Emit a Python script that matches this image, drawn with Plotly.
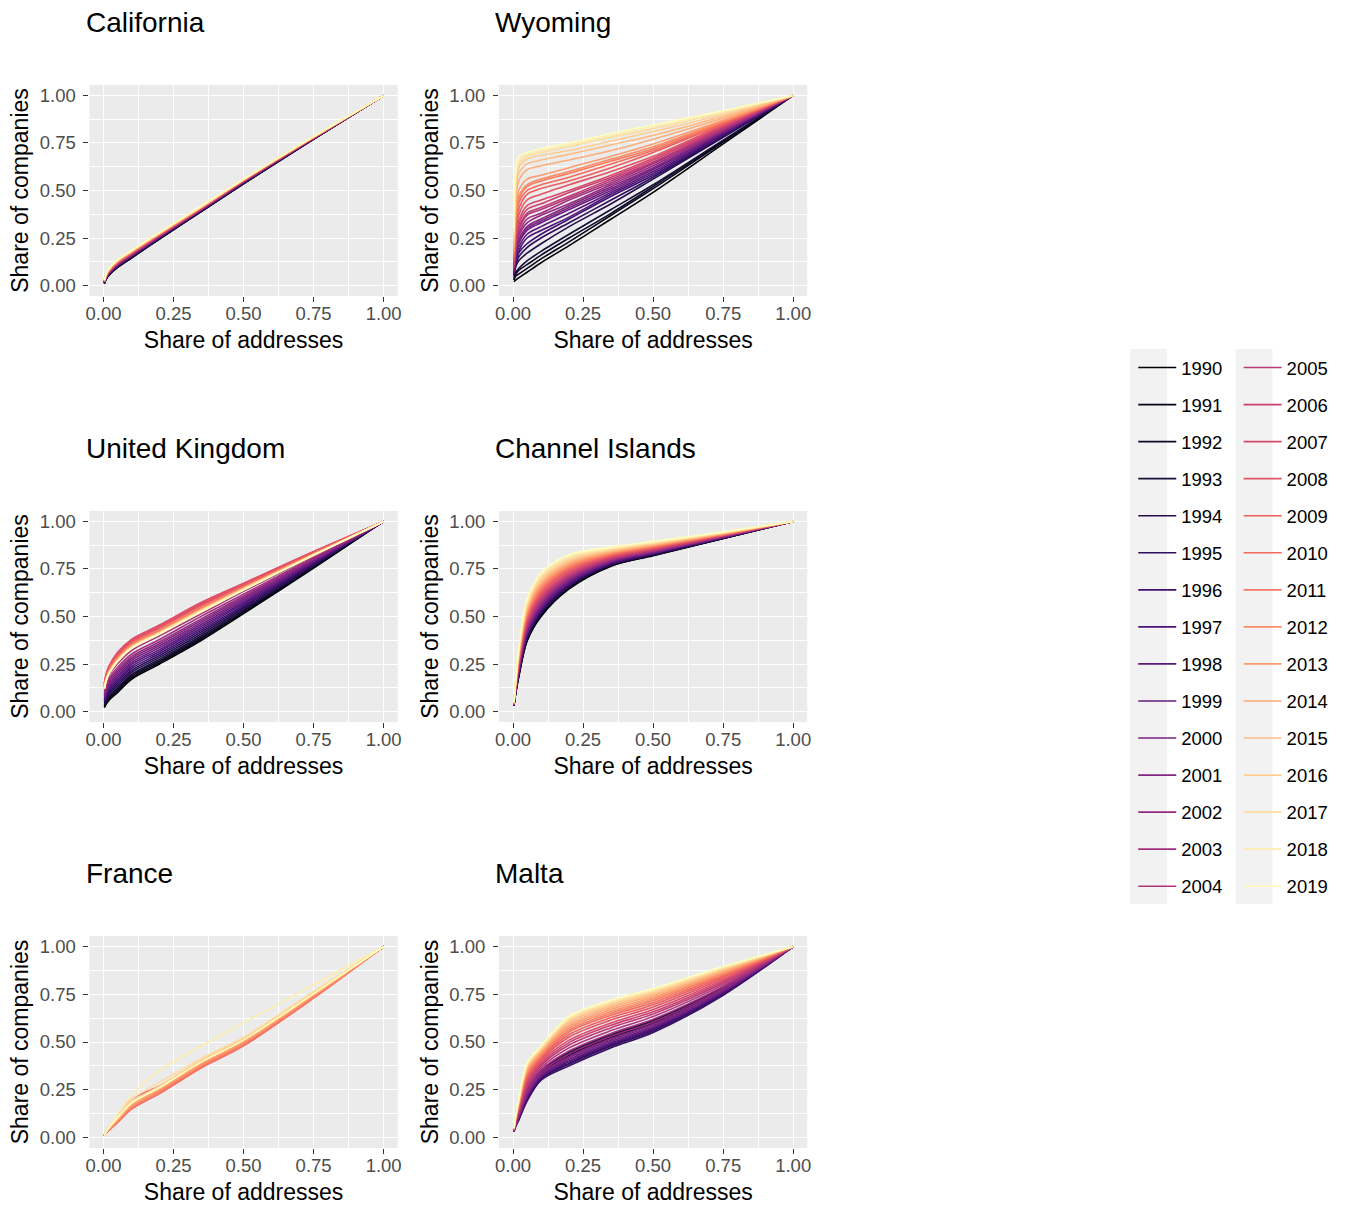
import plotly.graph_objects as go
import plotly.express as px
from plotly.colors import sample_colorscale

W, H = 1347, 1205

YEARS = list(range(1990, 2020))
X_GRID = [0.003, 0.01, 0.02, 0.05, 0.1, 0.2, 0.35, 0.5, 0.75, 1.0]
TICK_VALS = [0, 0.25, 0.5, 0.75, 1.0]
TICK_TEXT = ["0.00", "0.25", "0.50", "0.75", "1.00"]
PANEL_TITLES = ["California", "Wyoming", "United Kingdom", "Channel Islands", "France", "Malta"]
X_TITLE = "Share of addresses"
Y_TITLE = "Share of companies"

CALIFORNIA = [
    [0.010, 0.035, 0.055, 0.095, 0.145, 0.245, 0.390, 0.535, 0.770, 1.0],
    [0.011, 0.036, 0.056, 0.096, 0.146, 0.246, 0.391, 0.536, 0.770, 1.0],
    [0.011, 0.037, 0.057, 0.097, 0.147, 0.247, 0.392, 0.537, 0.771, 1.0],
    [0.012, 0.038, 0.058, 0.099, 0.149, 0.248, 0.393, 0.538, 0.771, 1.0],
    [0.013, 0.039, 0.060, 0.100, 0.150, 0.250, 0.394, 0.539, 0.772, 1.0],
    [0.014, 0.040, 0.061, 0.102, 0.152, 0.251, 0.395, 0.540, 0.772, 1.0],
    [0.014, 0.041, 0.062, 0.103, 0.153, 0.252, 0.396, 0.541, 0.773, 1.0],
    [0.015, 0.042, 0.063, 0.104, 0.154, 0.253, 0.397, 0.542, 0.773, 1.0],
    [0.016, 0.043, 0.065, 0.106, 0.156, 0.255, 0.398, 0.543, 0.774, 1.0],
    [0.016, 0.044, 0.066, 0.107, 0.157, 0.256, 0.399, 0.544, 0.774, 1.0],
    [0.017, 0.045, 0.067, 0.109, 0.159, 0.257, 0.400, 0.545, 0.775, 1.0],
    [0.018, 0.046, 0.069, 0.110, 0.160, 0.258, 0.401, 0.546, 0.775, 1.0],
    [0.019, 0.047, 0.070, 0.112, 0.162, 0.260, 0.402, 0.547, 0.776, 1.0],
    [0.019, 0.048, 0.071, 0.113, 0.163, 0.261, 0.403, 0.548, 0.776, 1.0],
    [0.020, 0.049, 0.072, 0.115, 0.165, 0.262, 0.404, 0.549, 0.777, 1.0],
    [0.021, 0.050, 0.074, 0.116, 0.166, 0.264, 0.405, 0.550, 0.777, 1.0],
    [0.021, 0.051, 0.075, 0.118, 0.168, 0.265, 0.406, 0.550, 0.778, 1.0],
    [0.022, 0.052, 0.076, 0.119, 0.169, 0.266, 0.407, 0.551, 0.778, 1.0],
    [0.023, 0.053, 0.078, 0.121, 0.171, 0.268, 0.408, 0.552, 0.779, 1.0],
    [0.024, 0.054, 0.079, 0.122, 0.172, 0.269, 0.409, 0.553, 0.779, 1.0],
    [0.024, 0.055, 0.080, 0.124, 0.174, 0.270, 0.410, 0.554, 0.780, 1.0],
    [0.025, 0.056, 0.081, 0.125, 0.175, 0.271, 0.411, 0.555, 0.781, 1.0],
    [0.026, 0.058, 0.083, 0.127, 0.177, 0.273, 0.412, 0.556, 0.781, 1.0],
    [0.026, 0.059, 0.084, 0.128, 0.178, 0.274, 0.413, 0.557, 0.782, 1.0],
    [0.027, 0.060, 0.085, 0.130, 0.180, 0.275, 0.414, 0.557, 0.782, 1.0],
    [0.028, 0.061, 0.086, 0.131, 0.181, 0.276, 0.415, 0.558, 0.783, 1.0],
    [0.028, 0.062, 0.087, 0.132, 0.182, 0.277, 0.416, 0.558, 0.783, 1.0],
    [0.029, 0.063, 0.088, 0.133, 0.183, 0.278, 0.417, 0.559, 0.784, 1.0],
    [0.029, 0.064, 0.089, 0.134, 0.184, 0.279, 0.419, 0.559, 0.784, 1.0],
    [0.030, 0.065, 0.090, 0.135, 0.185, 0.280, 0.420, 0.560, 0.785, 1.0],
]

WYOMING = [
    [0.02, 0.03, 0.04, 0.07, 0.12, 0.21, 0.35, 0.49, 0.745, 1.0],
    [0.03, 0.05, 0.06, 0.09, 0.14, 0.23, 0.37, 0.51, 0.755, 1.0],
    [0.03, 0.06, 0.08, 0.11, 0.16, 0.25, 0.38, 0.52, 0.76, 1.0],
    [0.04, 0.07, 0.09, 0.13, 0.18, 0.27, 0.40, 0.53, 0.765, 1.0],
    [0.05, 0.10, 0.13, 0.17, 0.22, 0.31, 0.43, 0.56, 0.78, 1.0],
    [0.05, 0.11, 0.15, 0.20, 0.25, 0.33, 0.45, 0.57, 0.785, 1.0],
    [0.06, 0.12, 0.17, 0.22, 0.27, 0.35, 0.47, 0.58, 0.79, 1.0],
    [0.06, 0.13, 0.18, 0.25, 0.29, 0.36, 0.48, 0.59, 0.795, 1.0],
    [0.07, 0.15, 0.20, 0.27, 0.31, 0.38, 0.49, 0.60, 0.80, 1.0],
    [0.07, 0.16, 0.22, 0.29, 0.33, 0.40, 0.50, 0.61, 0.805, 1.0],
    [0.08, 0.17, 0.23, 0.30, 0.34, 0.41, 0.51, 0.615, 0.81, 1.0],
    [0.08, 0.18, 0.24, 0.31, 0.35, 0.42, 0.52, 0.62, 0.81, 1.0],
    [0.09, 0.19, 0.26, 0.33, 0.37, 0.43, 0.53, 0.63, 0.815, 1.0],
    [0.09, 0.20, 0.27, 0.35, 0.38, 0.45, 0.54, 0.64, 0.82, 1.0],
    [0.10, 0.21, 0.29, 0.37, 0.40, 0.46, 0.55, 0.645, 0.825, 1.0],
    [0.10, 0.22, 0.30, 0.38, 0.41, 0.47, 0.56, 0.65, 0.83, 1.0],
    [0.11, 0.24, 0.32, 0.40, 0.43, 0.49, 0.57, 0.66, 0.835, 1.0],
    [0.12, 0.26, 0.34, 0.42, 0.45, 0.50, 0.58, 0.67, 0.84, 1.0],
    [0.13, 0.28, 0.37, 0.45, 0.48, 0.53, 0.60, 0.68, 0.845, 1.0],
    [0.14, 0.30, 0.40, 0.48, 0.51, 0.55, 0.62, 0.70, 0.85, 1.0],
    [0.15, 0.33, 0.43, 0.50, 0.53, 0.57, 0.64, 0.71, 0.855, 1.0],
    [0.16, 0.35, 0.45, 0.52, 0.55, 0.59, 0.655, 0.72, 0.86, 1.0],
    [0.17, 0.37, 0.47, 0.53, 0.56, 0.60, 0.665, 0.73, 0.865, 1.0],
    [0.18, 0.40, 0.50, 0.56, 0.58, 0.62, 0.68, 0.745, 0.87, 1.0],
    [0.20, 0.45, 0.55, 0.61, 0.63, 0.66, 0.71, 0.77, 0.88, 1.0],
    [0.22, 0.50, 0.59, 0.64, 0.66, 0.69, 0.74, 0.79, 0.89, 1.0],
    [0.24, 0.53, 0.62, 0.665, 0.685, 0.71, 0.76, 0.81, 0.90, 1.0],
    [0.26, 0.56, 0.64, 0.68, 0.70, 0.73, 0.78, 0.825, 0.91, 1.0],
    [0.28, 0.59, 0.66, 0.69, 0.71, 0.74, 0.79, 0.835, 0.915, 1.0],
    [0.30, 0.62, 0.68, 0.70, 0.72, 0.75, 0.80, 0.845, 0.92, 1.0],
]

UNITED_KINGDOM = [
    [0.020, 0.040, 0.060, 0.100, 0.170, 0.250, 0.375, 0.515, 0.755, 1.0],
    [0.025, 0.046, 0.067, 0.108, 0.178, 0.258, 0.383, 0.521, 0.758, 1.0],
    [0.030, 0.053, 0.074, 0.117, 0.187, 0.266, 0.391, 0.527, 0.762, 1.0],
    [0.036, 0.059, 0.082, 0.125, 0.195, 0.275, 0.399, 0.534, 0.765, 1.0],
    [0.042, 0.067, 0.091, 0.136, 0.206, 0.285, 0.409, 0.542, 0.770, 1.0],
    [0.049, 0.075, 0.100, 0.146, 0.216, 0.295, 0.419, 0.550, 0.774, 1.0],
    [0.055, 0.083, 0.109, 0.157, 0.227, 0.305, 0.429, 0.558, 0.779, 1.0],
    [0.062, 0.091, 0.118, 0.167, 0.237, 0.316, 0.439, 0.567, 0.783, 1.0],
    [0.068, 0.099, 0.127, 0.178, 0.248, 0.326, 0.449, 0.574, 0.787, 1.0],
    [0.075, 0.107, 0.136, 0.188, 0.258, 0.336, 0.459, 0.582, 0.792, 1.0],
    [0.081, 0.115, 0.145, 0.199, 0.269, 0.346, 0.469, 0.591, 0.796, 1.0],
    [0.088, 0.123, 0.154, 0.209, 0.279, 0.357, 0.479, 0.599, 0.800, 1.0],
    [0.094, 0.131, 0.163, 0.220, 0.290, 0.367, 0.489, 0.607, 0.805, 1.0],
    [0.102, 0.141, 0.173, 0.232, 0.302, 0.379, 0.502, 0.617, 0.810, 1.0],
    [0.114, 0.155, 0.190, 0.251, 0.321, 0.398, 0.515, 0.632, 0.818, 1.0],
    [0.131, 0.176, 0.213, 0.279, 0.349, 0.424, 0.543, 0.652, 0.829, 1.0],
    [0.144, 0.192, 0.231, 0.300, 0.370, 0.445, 0.564, 0.667, 0.838, 1.0],
    [0.150, 0.200, 0.240, 0.310, 0.380, 0.455, 0.575, 0.675, 0.842, 1.0],
    [0.147, 0.197, 0.236, 0.306, 0.376, 0.451, 0.571, 0.672, 0.840, 1.0],
    [0.140, 0.187, 0.226, 0.293, 0.363, 0.439, 0.558, 0.663, 0.835, 1.0],
    [0.134, 0.181, 0.218, 0.285, 0.355, 0.430, 0.549, 0.656, 0.832, 1.0],
    [0.132, 0.178, 0.215, 0.281, 0.351, 0.426, 0.545, 0.653, 0.830, 1.0],
    [0.129, 0.174, 0.211, 0.276, 0.346, 0.422, 0.541, 0.650, 0.828, 1.0],
    [0.128, 0.173, 0.209, 0.274, 0.344, 0.420, 0.538, 0.649, 0.827, 1.0],
    [0.127, 0.171, 0.208, 0.272, 0.342, 0.418, 0.536, 0.647, 0.826, 1.0],
    [0.125, 0.170, 0.206, 0.270, 0.340, 0.416, 0.534, 0.646, 0.825, 1.0],
    [0.124, 0.168, 0.204, 0.268, 0.338, 0.414, 0.532, 0.644, 0.825, 1.0],
    [0.123, 0.166, 0.202, 0.266, 0.336, 0.412, 0.530, 0.642, 0.824, 1.0],
    [0.121, 0.165, 0.200, 0.264, 0.334, 0.410, 0.528, 0.641, 0.823, 1.0],
    [0.120, 0.163, 0.199, 0.262, 0.332, 0.408, 0.526, 0.639, 0.822, 1.0],
]

CHANNEL_ISLANDS = [
    [0.030, 0.100, 0.180, 0.370, 0.500, 0.645, 0.765, 0.820, 0.910, 1.0],
    [0.030, 0.102, 0.183, 0.374, 0.505, 0.649, 0.767, 0.822, 0.911, 1.0],
    [0.031, 0.103, 0.186, 0.379, 0.509, 0.652, 0.769, 0.823, 0.911, 1.0],
    [0.031, 0.105, 0.189, 0.383, 0.514, 0.656, 0.771, 0.825, 0.912, 1.0],
    [0.032, 0.106, 0.192, 0.388, 0.518, 0.659, 0.773, 0.826, 0.913, 1.0],
    [0.032, 0.108, 0.195, 0.392, 0.523, 0.663, 0.775, 0.828, 0.914, 1.0],
    [0.032, 0.110, 0.198, 0.396, 0.528, 0.667, 0.777, 0.829, 0.914, 1.0],
    [0.033, 0.112, 0.203, 0.403, 0.535, 0.672, 0.780, 0.831, 0.915, 1.0],
    [0.034, 0.114, 0.207, 0.410, 0.541, 0.677, 0.783, 0.834, 0.916, 1.0],
    [0.034, 0.117, 0.212, 0.416, 0.548, 0.683, 0.786, 0.836, 0.917, 1.0],
    [0.035, 0.119, 0.216, 0.423, 0.555, 0.688, 0.789, 0.838, 0.918, 1.0],
    [0.035, 0.122, 0.221, 0.429, 0.562, 0.694, 0.792, 0.840, 0.919, 1.0],
    [0.036, 0.124, 0.225, 0.436, 0.569, 0.699, 0.795, 0.843, 0.921, 1.0],
    [0.037, 0.126, 0.230, 0.443, 0.576, 0.704, 0.798, 0.845, 0.922, 1.0],
    [0.037, 0.129, 0.234, 0.449, 0.583, 0.710, 0.801, 0.847, 0.923, 1.0],
    [0.038, 0.132, 0.240, 0.458, 0.592, 0.717, 0.805, 0.850, 0.924, 1.0],
    [0.039, 0.135, 0.246, 0.467, 0.601, 0.724, 0.809, 0.853, 0.925, 1.0],
    [0.040, 0.138, 0.252, 0.476, 0.610, 0.731, 0.813, 0.856, 0.927, 1.0],
    [0.040, 0.142, 0.258, 0.484, 0.620, 0.739, 0.817, 0.859, 0.928, 1.0],
    [0.041, 0.145, 0.264, 0.493, 0.629, 0.746, 0.821, 0.862, 0.930, 1.0],
    [0.042, 0.148, 0.270, 0.502, 0.638, 0.753, 0.825, 0.865, 0.931, 1.0],
    [0.043, 0.151, 0.276, 0.511, 0.647, 0.760, 0.829, 0.868, 0.932, 1.0],
    [0.044, 0.154, 0.282, 0.520, 0.656, 0.767, 0.833, 0.871, 0.934, 1.0],
    [0.044, 0.158, 0.288, 0.528, 0.666, 0.775, 0.837, 0.874, 0.935, 1.0],
    [0.045, 0.161, 0.294, 0.537, 0.675, 0.782, 0.841, 0.877, 0.937, 1.0],
    [0.046, 0.164, 0.300, 0.546, 0.684, 0.789, 0.845, 0.880, 0.938, 1.0],
    [0.047, 0.168, 0.308, 0.557, 0.696, 0.798, 0.850, 0.884, 0.940, 1.0],
    [0.048, 0.172, 0.315, 0.568, 0.707, 0.807, 0.855, 0.888, 0.942, 1.0],
    [0.049, 0.176, 0.323, 0.579, 0.719, 0.816, 0.860, 0.891, 0.943, 1.0],
    [0.050, 0.180, 0.330, 0.590, 0.730, 0.825, 0.865, 0.895, 0.945, 1.0],
]

FRANCE = [
    [0.010, 0.030, 0.045, 0.090, 0.165, 0.250, 0.385, 0.500, 0.745, 1.0],
    [0.011, 0.031, 0.047, 0.093, 0.168, 0.253, 0.388, 0.502, 0.746, 1.0],
    [0.009, 0.029, 0.044, 0.088, 0.162, 0.247, 0.382, 0.497, 0.743, 1.0],
    [0.010, 0.030, 0.045, 0.090, 0.165, 0.250, 0.385, 0.500, 0.745, 1.0],
    [0.011, 0.031, 0.047, 0.093, 0.168, 0.253, 0.388, 0.502, 0.746, 1.0],
    [0.009, 0.029, 0.044, 0.088, 0.162, 0.247, 0.382, 0.497, 0.743, 1.0],
    [0.010, 0.030, 0.045, 0.090, 0.165, 0.250, 0.385, 0.500, 0.745, 1.0],
    [0.011, 0.031, 0.047, 0.093, 0.168, 0.253, 0.388, 0.502, 0.746, 1.0],
    [0.009, 0.029, 0.044, 0.088, 0.162, 0.247, 0.382, 0.497, 0.743, 1.0],
    [0.010, 0.030, 0.045, 0.090, 0.165, 0.250, 0.385, 0.500, 0.745, 1.0],
    [0.011, 0.031, 0.047, 0.093, 0.168, 0.253, 0.388, 0.502, 0.746, 1.0],
    [0.009, 0.029, 0.044, 0.088, 0.162, 0.247, 0.382, 0.497, 0.743, 1.0],
    [0.010, 0.030, 0.045, 0.090, 0.165, 0.250, 0.385, 0.500, 0.745, 1.0],
    [0.011, 0.031, 0.047, 0.093, 0.168, 0.253, 0.388, 0.502, 0.746, 1.0],
    [0.009, 0.029, 0.044, 0.088, 0.162, 0.247, 0.382, 0.497, 0.743, 1.0],
    [0.010, 0.030, 0.045, 0.090, 0.165, 0.250, 0.385, 0.500, 0.745, 1.0],
    [0.011, 0.031, 0.047, 0.093, 0.168, 0.253, 0.388, 0.502, 0.746, 1.0],
    [0.009, 0.029, 0.044, 0.088, 0.162, 0.247, 0.382, 0.497, 0.743, 1.0],
    [0.010, 0.030, 0.045, 0.090, 0.165, 0.250, 0.385, 0.500, 0.745, 1.0],
    [0.010, 0.030, 0.050, 0.110, 0.200, 0.270, 0.395, 0.510, 0.750, 1.0],
    [0.008, 0.025, 0.038, 0.078, 0.148, 0.230, 0.365, 0.480, 0.730, 1.0],
    [0.009, 0.027, 0.041, 0.083, 0.155, 0.238, 0.372, 0.487, 0.735, 1.0],
    [0.009, 0.028, 0.043, 0.087, 0.161, 0.245, 0.379, 0.494, 0.740, 1.0],
    [0.010, 0.030, 0.046, 0.091, 0.167, 0.251, 0.386, 0.500, 0.745, 1.0],
    [0.011, 0.032, 0.049, 0.096, 0.173, 0.257, 0.392, 0.507, 0.750, 1.0],
    [0.011, 0.033, 0.052, 0.100, 0.179, 0.263, 0.398, 0.513, 0.755, 1.0],
    [0.012, 0.035, 0.055, 0.105, 0.185, 0.270, 0.405, 0.520, 0.760, 1.0],
    [0.010, 0.032, 0.052, 0.110, 0.200, 0.290, 0.415, 0.525, 0.765, 1.0],
    [0.010, 0.030, 0.050, 0.120, 0.220, 0.350, 0.480, 0.600, 0.800, 1.0],
    [0.011, 0.033, 0.053, 0.102, 0.180, 0.262, 0.396, 0.510, 0.752, 1.0],
]

MALTA = [
    [0.034, 0.073, 0.114, 0.234, 0.340, 0.432, 0.525, 0.601, 0.778, 1.0],
    [0.035, 0.075, 0.118, 0.240, 0.345, 0.440, 0.533, 0.608, 0.783, 1.0],
    [0.034, 0.072, 0.112, 0.230, 0.336, 0.427, 0.520, 0.596, 0.775, 1.0],
    [0.036, 0.077, 0.121, 0.246, 0.350, 0.448, 0.540, 0.614, 0.787, 1.0],
    [0.031, 0.063, 0.096, 0.200, 0.309, 0.388, 0.483, 0.562, 0.753, 1.0],
    [0.030, 0.060, 0.090, 0.190, 0.300, 0.375, 0.470, 0.550, 0.745, 1.0],
    [0.031, 0.062, 0.093, 0.196, 0.305, 0.383, 0.478, 0.557, 0.750, 1.0],
    [0.032, 0.065, 0.099, 0.206, 0.314, 0.396, 0.490, 0.568, 0.757, 1.0],
    [0.032, 0.066, 0.101, 0.210, 0.318, 0.401, 0.495, 0.573, 0.760, 1.0],
    [0.033, 0.068, 0.104, 0.216, 0.323, 0.409, 0.503, 0.580, 0.765, 1.0],
    [0.033, 0.070, 0.108, 0.222, 0.329, 0.417, 0.510, 0.587, 0.769, 1.0],
    [0.034, 0.071, 0.111, 0.228, 0.334, 0.424, 0.518, 0.594, 0.774, 1.0],
    [0.035, 0.074, 0.116, 0.238, 0.343, 0.437, 0.530, 0.605, 0.781, 1.0],
    [0.036, 0.078, 0.123, 0.250, 0.354, 0.453, 0.545, 0.619, 0.790, 1.0],
    [0.037, 0.082, 0.130, 0.262, 0.365, 0.469, 0.560, 0.633, 0.799, 1.0],
    [0.038, 0.085, 0.136, 0.274, 0.376, 0.484, 0.575, 0.647, 0.808, 1.0],
    [0.039, 0.088, 0.142, 0.284, 0.385, 0.497, 0.588, 0.658, 0.816, 1.0],
    [0.040, 0.091, 0.147, 0.294, 0.394, 0.510, 0.600, 0.670, 0.823, 1.0],
    [0.042, 0.095, 0.154, 0.306, 0.404, 0.526, 0.615, 0.683, 0.832, 1.0],
    [0.043, 0.098, 0.159, 0.316, 0.413, 0.539, 0.628, 0.695, 0.840, 1.0],
    [0.044, 0.101, 0.165, 0.326, 0.422, 0.552, 0.640, 0.706, 0.847, 1.0],
    [0.044, 0.103, 0.169, 0.334, 0.430, 0.562, 0.650, 0.716, 0.853, 1.0],
    [0.045, 0.106, 0.174, 0.342, 0.437, 0.573, 0.660, 0.725, 0.859, 1.0],
    [0.046, 0.108, 0.178, 0.350, 0.444, 0.583, 0.670, 0.734, 0.865, 1.0],
    [0.047, 0.110, 0.182, 0.358, 0.451, 0.593, 0.680, 0.743, 0.871, 1.0],
    [0.048, 0.113, 0.187, 0.366, 0.458, 0.604, 0.690, 0.752, 0.877, 1.0],
    [0.048, 0.115, 0.190, 0.372, 0.464, 0.612, 0.698, 0.759, 0.882, 1.0],
    [0.049, 0.116, 0.193, 0.378, 0.469, 0.619, 0.705, 0.766, 0.886, 1.0],
    [0.049, 0.118, 0.197, 0.384, 0.475, 0.627, 0.713, 0.773, 0.891, 1.0],
    [0.050, 0.120, 0.200, 0.390, 0.480, 0.635, 0.720, 0.780, 0.895, 1.0],
]

PANEL_DATA = [CALIFORNIA, WYOMING, UNITED_KINGDOM, CHANNEL_ISLANDS, FRANCE, MALTA]

# ---- styling / layout ----
FONT = "Liberation Sans, Arial, sans-serif"
COLORS = sample_colorscale(px.colors.sequential.Magma, [i / 29 for i in range(30)])
COL_PX = [(86, 396), (498, 808)]
ROW_PX = [(85, 296), (511, 722), (936, 1148)]


def px_x(v):
    return v / W


def px_y(v):
    return 1 - v / H


fig = go.Figure()

for p, (title, data) in enumerate(zip(PANEL_TITLES, PANEL_DATA)):
    r, c = divmod(p, 2)
    ax = "" if p == 0 else str(p + 1)
    for i, (year, ys) in enumerate(zip(YEARS, data)):
        fig.add_trace(go.Scatter(
            x=X_GRID, y=ys, mode="lines",
            line=dict(color=COLORS[i], width=1.6, shape="spline", smoothing=0.9),
            name=str(year), legendgroup=str(year),
            legend="legend" if year < 2005 else "legend2",
            showlegend=(p == 0),
            xaxis="x" + ax, yaxis="y" + ax,
        ))

    x0, x1 = COL_PX[c]
    y0, y1 = ROW_PX[r]
    common = dict(
        showgrid=True, gridcolor="white", gridwidth=1.3,
        zeroline=False, showline=False,
        ticks="outside", ticklen=5, tickwidth=1, tickcolor="#333333",
        tickmode="array", tickvals=TICK_VALS, ticktext=TICK_TEXT,
        tickfont=dict(family=FONT, size=18.5, color="#4D4D4D"),
        minor=dict(tick0=0.125, dtick=0.25, showgrid=True, gridcolor="white", gridwidth=0.7),
        fixedrange=True,
    )
    fig.update_layout(**{
        "xaxis" + ax: dict(
            domain=[px_x(x0), px_x(x1)], range=[-0.05, 1.05],
            anchor="y" + ax, ticklabelstandoff=-4,
            title=dict(text=X_TITLE, font=dict(family=FONT, size=23, color="black"), standoff=8),
            **common,
        ),
        "yaxis" + ax: dict(
            domain=[px_y(y1), px_y(y0)], range=[-0.055, 1.055],
            anchor="x" + ax, ticklabelstandoff=4,
            title=dict(text=Y_TITLE, font=dict(family=FONT, size=23, color="black"), standoff=4),
            **common,
        ),
    })
    fig.add_annotation(
        text=title, xref="paper", yref="paper",
        x=px_x(x0 - 6), y=px_y(y0 - 63), xanchor="left", yanchor="middle",
        showarrow=False, font=dict(family=FONT, size=28, color="black"),
    )

# grey legend key columns
for kx0, kx1 in [(1133, 1170), (1239, 1276)]:
    fig.add_shape(type="rect", xref="paper", yref="paper",
                  x0=px_x(kx0), x1=px_x(kx1), y0=px_y(904), y1=px_y(349),
                  fillcolor="#F2F2F2", line=dict(width=0), layer="below")

legend_common = dict(
    bgcolor="rgba(0,0,0,0)", borderwidth=0,
    font=dict(family=FONT, size=18.5, color="black"),
    tracegroupgap=10, itemwidth=38,
    xanchor="left", yanchor="top", itemclick=False, itemdoubleclick=False,
)
fig.update_layout(
    width=W, height=H,
    margin=dict(l=0, r=0, t=0, b=0),
    paper_bgcolor="white", plot_bgcolor="#EBEBEB",
    showlegend=True,
    legend=dict(x=px_x(1136), y=px_y(349), **legend_common),
    legend2=dict(x=px_x(1242), y=px_y(349), **legend_common),
)

fig.write_html("out.html")
